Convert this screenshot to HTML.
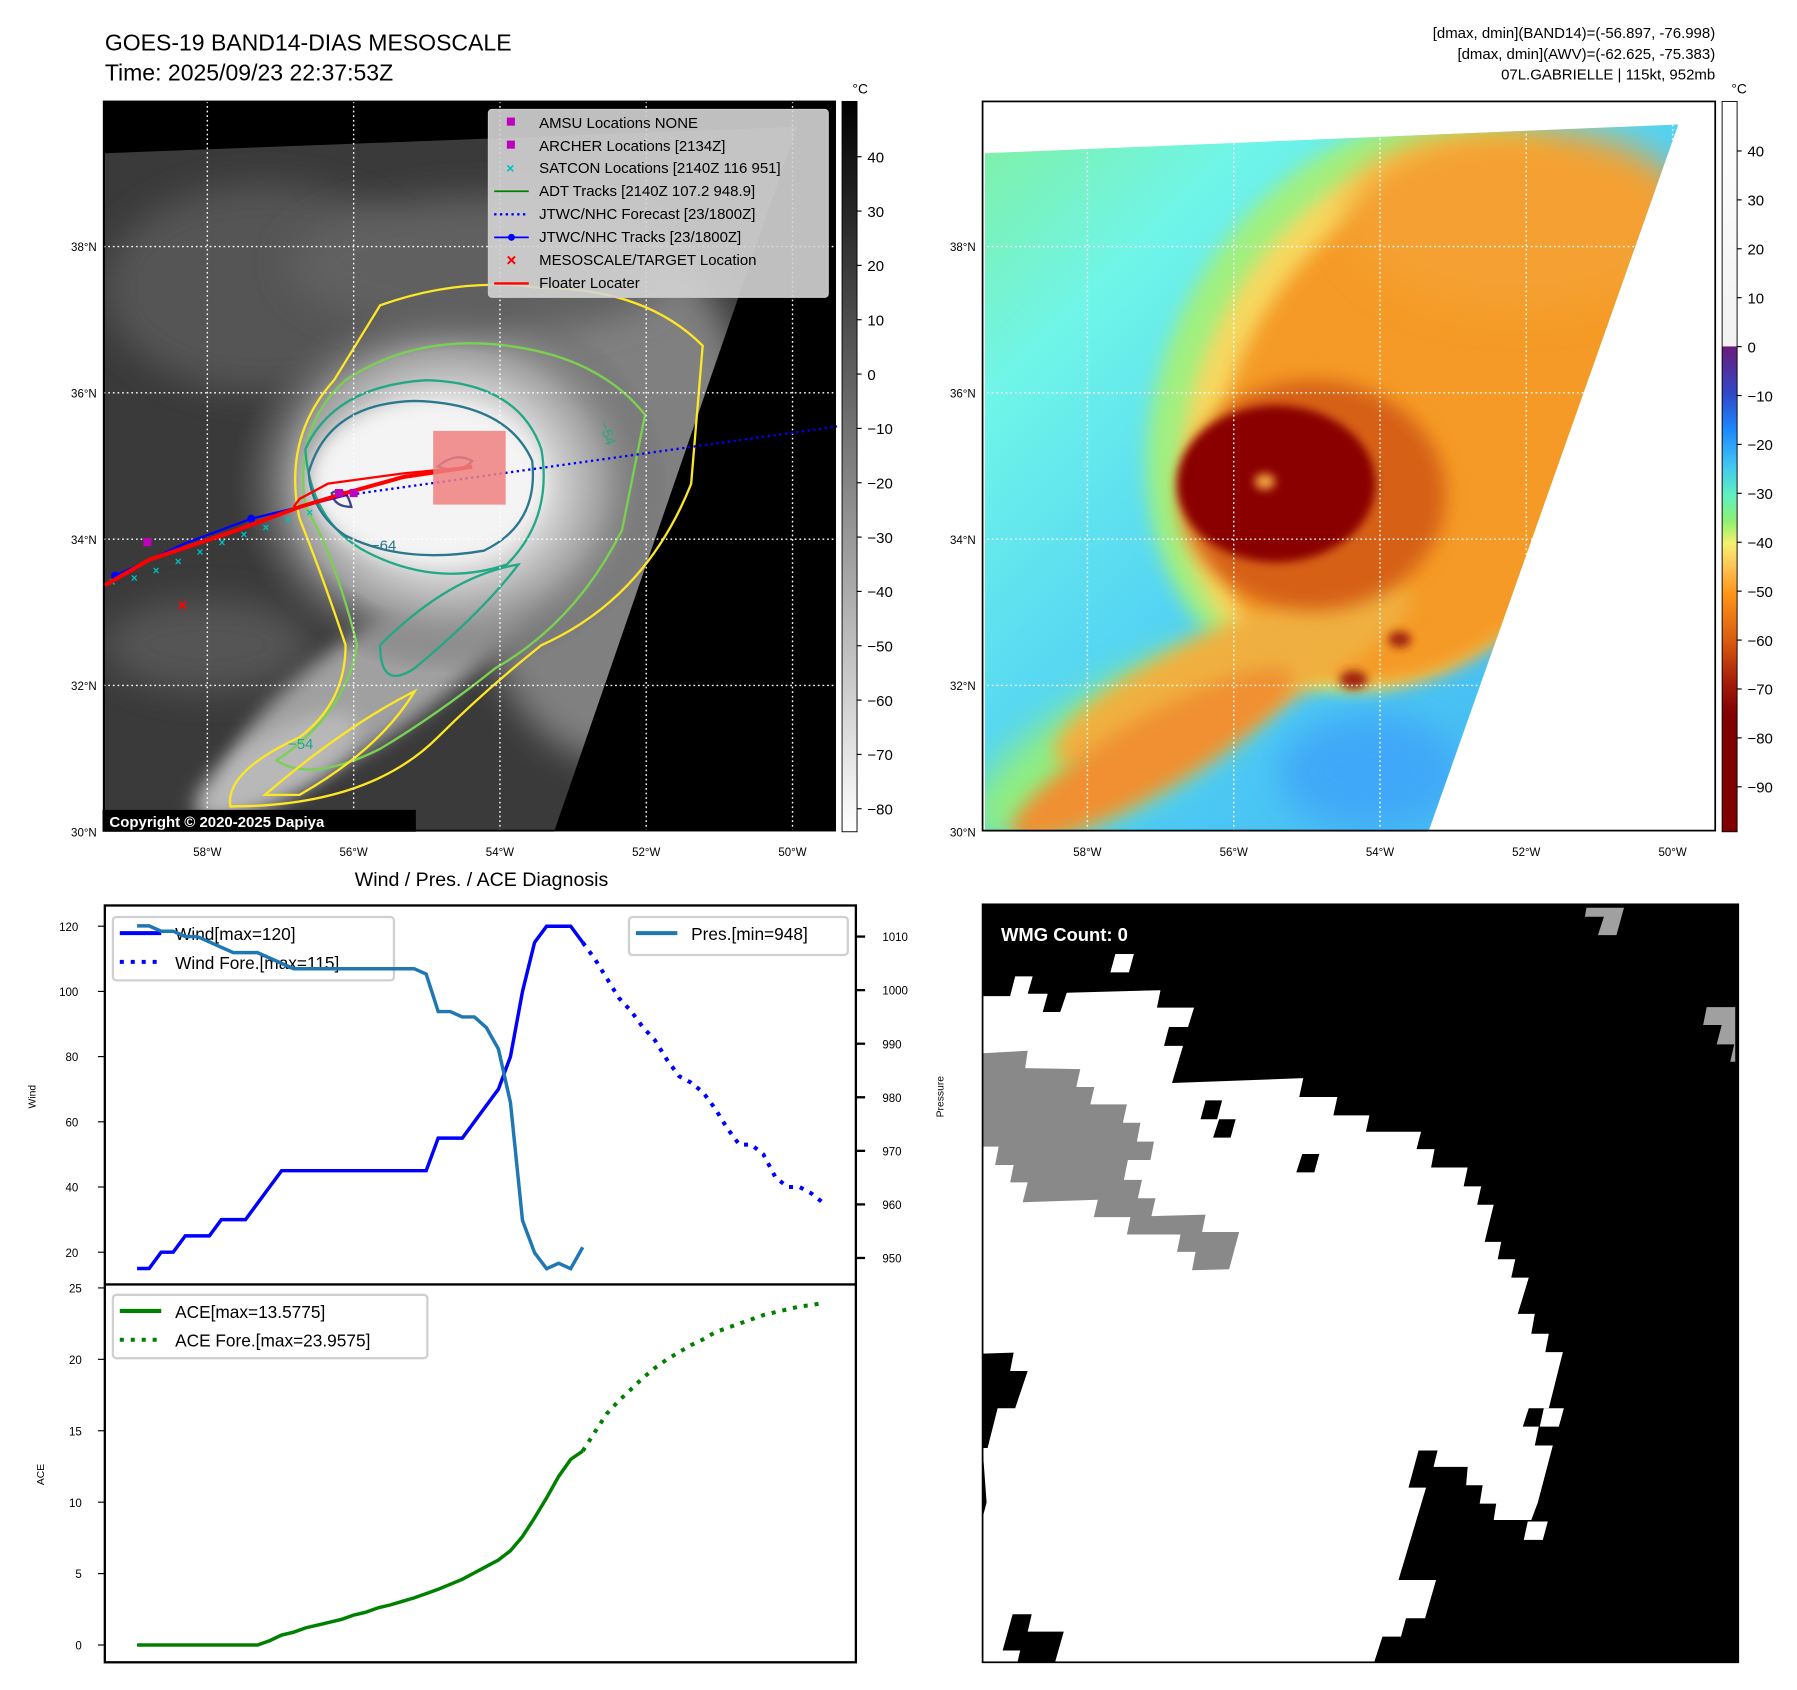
<!DOCTYPE html>
<html><head><meta charset="utf-8">
<style>
html,body{margin:0;padding:0;background:#fff;}
svg{display:block;font-family:"Liberation Sans","DejaVu Sans",sans-serif;}
</style></head>
<body>
<svg id="root" width="1797" height="1690" viewBox="0 0 1560 1467" xmlns="http://www.w3.org/2000/svg">
<defs>
  <filter id="blur8" x="-50%" y="-50%" width="200%" height="200%"><feGaussianBlur stdDeviation="8"/></filter>
  <filter id="blur15" x="-50%" y="-50%" width="200%" height="200%"><feGaussianBlur stdDeviation="15"/></filter>
  <filter id="blur4" x="-50%" y="-50%" width="200%" height="200%"><feGaussianBlur stdDeviation="4"/></filter>
  <clipPath id="clipL"><polygon points="91,133 692,110 481,722 91,722"/></clipPath>
  <clipPath id="clipR"><polygon points="855,133 1457,108 1240,722 855,722"/></clipPath>
  <clipPath id="boxL"><rect x="90" y="88" width="635" height="633"/></clipPath>
  <radialGradient id="stormG" cx="0.5" cy="0.5" r="0.5">
    <stop offset="0" stop-color="#fafafa"/><stop offset="0.4" stop-color="#e6e6e6"/><stop offset="0.7" stop-color="#a0a0a0"/><stop offset="1" stop-color="#5a5a5a" stop-opacity="0"/>
  </radialGradient>
  <linearGradient id="cbL" x1="0" y1="0" x2="0" y2="1">
    <stop offset="0" stop-color="#000"/><stop offset="1" stop-color="#fff"/>
  </linearGradient>
  <linearGradient id="cbR" x1="0" y1="0" x2="0" y2="1">
    <stop offset="0" stop-color="#ffffff"/><stop offset="0.335" stop-color="#f2f2f2"/>
    <stop offset="0.336" stop-color="#6a1b7a"/><stop offset="0.40" stop-color="#3048c8"/>
    <stop offset="0.45" stop-color="#1e88ff"/><stop offset="0.50" stop-color="#40c8f0"/>
    <stop offset="0.54" stop-color="#60f0c0"/><stop offset="0.575" stop-color="#90f070"/>
    <stop offset="0.605" stop-color="#f5f070"/><stop offset="0.64" stop-color="#ffc050"/>
    <stop offset="0.675" stop-color="#ff9418"/><stop offset="0.74" stop-color="#d85a10"/>
    <stop offset="0.80" stop-color="#a01808"/><stop offset="0.84" stop-color="#800000"/><stop offset="1" stop-color="#800000"/>
  </linearGradient>
  <linearGradient id="baseR" x1="0" y1="0" x2="1" y2="1">
    <stop offset="0" stop-color="#80f0a0"/><stop offset="0.2" stop-color="#70f5e8"/><stop offset="0.5" stop-color="#50d0f5"/><stop offset="1" stop-color="#40b0f0"/>
  </linearGradient>
</defs>

<!-- Titles -->
<text x="91" y="44" font-size="20">GOES-19 BAND14-DIAS MESOSCALE</text>
<text x="91" y="70" font-size="20">Time: 2025/09/23 22:37:53Z</text>
<g font-size="13" text-anchor="end">
  <text x="1489" y="33">[dmax, dmin](BAND14)=(-56.897, -76.998)</text>
  <text x="1489" y="51">[dmax, dmin](AWV)=(-62.625, -75.383)</text>
  <text x="1489" y="69">07L.GABRIELLE | 115kt, 952mb</text>
</g>

<!-- LEFT MAP -->
<g>
  <rect x="90" y="88" width="635" height="633" fill="#000"/>
  <g clip-path="url(#clipL)">
    <rect x="90" y="100" width="640" height="630" fill="#3a3a3a"/>
    <ellipse cx="230" cy="250" rx="140" ry="90" fill="#555" filter="url(#blur15)"/>
    <ellipse cx="180" cy="560" rx="90" ry="40" fill="#555" filter="url(#blur15)"/>
    <ellipse cx="530" cy="430" rx="130" ry="230" fill="#808080" filter="url(#blur15)"/>
    <ellipse cx="420" cy="230" rx="170" ry="60" fill="#606060" filter="url(#blur15)"/>
    <ellipse cx="330" cy="590" rx="160" ry="45" transform="rotate(-35 330 590)" fill="#a0a0a0" filter="url(#blur8)"/>
    <ellipse cx="240" cy="665" rx="80" ry="28" transform="rotate(-30 240 665)" fill="#b8b8b8" filter="url(#blur8)"/>
    <ellipse cx="390" cy="420" rx="190" ry="165" fill="url(#stormG)"/>
    <ellipse cx="370" cy="418" rx="100" ry="68" fill="#f4f4f4" filter="url(#blur8)"/>
  </g>
  <g clip-path="url(#boxL)" fill="none" stroke-width="2">
    <path d="M330,265 Q400,240 470,250 Q560,250 610,300 L600,420 Q560,520 470,560 Q420,600 380,640 Q320,700 200,700 Q195,670 260,640 Q300,610 300,560 Q280,500 260,450 Q245,380 290,330 Z" stroke="#fde725"/>
    <path d="M300,330 Q360,290 440,300 Q520,310 560,360 L540,460 Q500,540 430,580 Q380,620 330,650 Q270,680 240,660 Q300,620 310,560 Q290,480 265,440 Q255,370 300,330 Z" stroke="#7ad151"/>
    <path d="M265,390 Q290,335 370,330 Q450,332 470,390 Q480,450 440,490 Q380,510 320,480 Q270,455 265,390 Z" stroke="#22a884"/>
    <path d="M268,410 Q285,350 360,348 Q440,350 462,400 Q468,455 420,478 Q350,490 300,465 Q270,445 268,410 Z" stroke="#2a788e"/>
    <path d="M380,405 Q395,392 410,400 Q400,412 380,405 Z" stroke="#414487"/>
    <path d="M288,428 Q300,420 305,440 Q290,440 288,428 Z" stroke="#414487"/>
    <path d="M330,560 Q390,500 450,490 Q420,530 360,580 Q330,600 330,560 Z" stroke="#22a884"/>
    <path d="M230,690 Q300,630 360,600 Q330,650 260,690 Z" stroke="#fde725"/>
    <text x="322" y="478" font-size="13" fill="#2a788e" stroke="none">−64</text>
    <text x="520" y="368" font-size="12" fill="#22a884" stroke="none" transform="rotate(70 520 368)">−54</text>
    <text x="250" y="650" font-size="13" fill="#22a884" stroke="none">−54</text>
  </g>
  <g id="gridL"></g>
  <g id="tracksL"></g>
  <rect x="89" y="703" width="272" height="19" fill="#000"/>
  <text x="95" y="718" font-size="13" font-weight="bold" fill="#fff">Copyright © 2020-2025 Dapiya</text>
  <rect x="90" y="88" width="635" height="633" fill="none" stroke="#000" stroke-width="1.5"/>
  <g font-size="13">
    <rect x="424" y="95" width="295" height="163" rx="3" fill="#d4d4d4" fill-opacity="0.9" stroke="#ccc"/>
    <rect x="440" y="102" width="7" height="7" fill="#bf00bf"/><text x="468" y="111">AMSU Locations NONE</text>
    <rect x="440" y="122" width="7" height="7" fill="#bf00bf"/><text x="468" y="131">ARCHER Locations [2134Z]</text>
    <text x="443" y="150" font-size="12" font-weight="bold" fill="#00bfbf" text-anchor="middle">×</text><text x="468" y="150">SATCON Locations [2140Z 116 951]</text>
    <line x1="429" y1="166" x2="459" y2="166" stroke="#008000" stroke-width="1.5"/><text x="468" y="170">ADT Tracks [2140Z 107.2 948.9]</text>
    <line x1="429" y1="186" x2="459" y2="186" stroke="#0000ff" stroke-width="2" stroke-dasharray="2 3"/><text x="468" y="190">JTWC/NHC Forecast [23/1800Z]</text>
    <line x1="429" y1="206" x2="459" y2="206" stroke="#0000ff" stroke-width="1.5"/><circle cx="444" cy="206" r="3" fill="#0000ff"/><text x="468" y="210">JTWC/NHC Tracks [23/1800Z]</text>
    <text x="444" y="231" font-size="15" font-weight="bold" fill="#ff0000" text-anchor="middle">×</text><text x="468" y="230">MESOSCALE/TARGET Location</text>
    <line x1="429" y1="246" x2="459" y2="246" stroke="#ff0000" stroke-width="2"/><text x="468" y="250">Floater Locater</text>
  </g>
  <g id="axL" font-size="10"></g>
</g>
<!-- Left colorbar -->
<g>
  <rect x="731" y="88" width="13" height="634" fill="url(#cbL)" stroke="#000" stroke-width="0.8"/>
  <text x="740" y="81" font-size="12">°C</text>
  <g id="cbLticks" font-size="13"></g>
</g>

<!-- RIGHT MAP -->
<g>
  <rect x="853" y="88" width="636" height="633" fill="#fff"/>
  <g clip-path="url(#clipR)">
    <rect x="850" y="100" width="640" height="630" fill="url(#baseR)"/>
    <ellipse cx="980" cy="640" rx="160" ry="50" transform="rotate(-30 980 640)" fill="#90ee80" filter="url(#blur15)"/>
    <ellipse cx="1190" cy="670" rx="80" ry="50" fill="#40a8f8" filter="url(#blur15)"/>
    <ellipse cx="1210" cy="350" rx="200" ry="260" transform="rotate(28 1210 350)" fill="#a0f080" filter="url(#blur8)"/>
    <ellipse cx="1225" cy="360" rx="185" ry="248" transform="rotate(28 1225 360)" fill="#f6d860" filter="url(#blur8)"/>
    <ellipse cx="1240" cy="370" rx="172" ry="236" transform="rotate(28 1240 370)" fill="#f59a28" filter="url(#blur8)"/>
    <ellipse cx="1320" cy="190" rx="150" ry="80" fill="#f4a030" filter="url(#blur15)"/>
    <ellipse cx="1070" cy="585" rx="170" ry="42" transform="rotate(-25 1070 585)" fill="#f0b040" filter="url(#blur8)"/>
    <ellipse cx="1000" cy="655" rx="140" ry="32" transform="rotate(-30 1000 655)" fill="#f09030" filter="url(#blur8)"/>
    <ellipse cx="1140" cy="430" rx="115" ry="100" fill="#d66018" filter="url(#blur8)"/>
    <ellipse cx="1108" cy="420" rx="86" ry="68" fill="#8a0400" filter="url(#blur4)"/>
    <ellipse cx="1098" cy="418" rx="9" ry="7" fill="#f0a040" filter="url(#blur4)"/>
    <ellipse cx="1175" cy="590" rx="12" ry="8" fill="#a02008" filter="url(#blur4)"/>
    <ellipse cx="1215" cy="555" rx="10" ry="7" fill="#a02008" filter="url(#blur4)"/>
  </g>
  <g id="gridR"></g>
  <rect x="853" y="88" width="636" height="633" fill="none" stroke="#000" stroke-width="1.5"/>
  <g id="axR" font-size="10"></g>
</g>
<g>
  <rect x="1495" y="88" width="13" height="634" fill="url(#cbR)" stroke="#000" stroke-width="0.8"/>
  <text x="1503" y="81" font-size="12">°C</text>
  <g id="cbRticks" font-size="13"></g>
</g>

<!-- WMG PANEL -->
<g>
  <rect x="853" y="785" width="656" height="658" fill="#000"/>
  <g transform="translate(853,785) scale(0.435,0.431) translate(-10,-5)">
    <polygon fill="#fff" points="10,190 65,190 75,150 110,150 100,185 140,185 130,222 165,222 178,183 365,178 358,213 432,213 420,252 382,252 372,290 410,290 388,365 650,355 642,393 718,393 710,430 782,430 775,463 885,463 876,498 912,498 905,535 978,535 970,573 1005,573 997,610 1030,610 1012,685 1045,685 1038,720 1073,720 1065,757 1100,757 1078,830 1112,830 1105,870 1140,870 1133,907 1168,907 1140,1020 1100,1020 1088,1057 1120,1057 1112,1095 1148,1095 1118,1210 1105,1245 1030,1245 1035,1212 1002,1212 1008,1175 975,1175 978,1138 910,1138 918,1105 880,1105 860,1180 895,1180 840,1366 915,1366 893,1443 855,1443 845,1480 808,1480 792,1530 155,1530 172,1470 100,1470 108,1435 70,1435 50,1508 85,1508 80,1530 10,1530 10,1240 18,1210 10,1100 20,1100 40,1020 75,1020 100,945 65,945 72,908 10,910"/>
    <polygon fill="#fff" points="275,105 312,105 302,142 265,142"/>
    <polygon fill="#fff" points="1098,1248 1138,1248 1128,1285 1090,1285"/>
    <polygon fill="#fff" points="1130,1020 1170,1020 1160,1057 1122,1057"/>
    <polygon fill="#000" points="455,400 488,400 478,438 445,438"/>
    <polygon fill="#000" points="482,438 515,438 505,475 470,475"/>
    <polygon fill="#000" points="648,508 682,508 672,545 636,545"/>
    <polygon fill="#898989" points="10,305 100,300 95,335 205,337 197,373 233,373 225,408 298,408 290,445 325,445 318,483 352,483 345,520 300,520 292,560 328,560 320,597 355,597 347,633 455,630 448,665 522,665 502,740 428,742 435,705 398,705 405,670 298,670 305,635 232,635 240,600 90,605 100,565 65,565 72,530 35,530 42,493 10,493"/>
    <polygon fill="#a0a0a0" points="1215,12 1290,12 1275,67 1238,67 1250,30 1212,30"/>
    <polygon fill="#a0a0a0" points="1455,212 1512,212 1512,322 1502,322 1510,287 1475,287 1485,248 1448,248"/>
  </g>
  <rect x="853" y="785" width="656" height="658" fill="none" stroke="#000" stroke-width="1.5"/>
  <text x="869" y="817" font-size="16" font-weight="bold" fill="#fff">WMG Count: 0</text>
</g>

<!-- BOTTOM-LEFT CHART -->
<text x="418" y="769" font-size="17" text-anchor="middle">Wind / Pres. / ACE Diagnosis</text>
<g id="chart"></g>

<script>
// ---------- Chart data (index = 6-hourly step) ----------
const windObs = [15,15,20,20,25,25,25,30,30,30,35,40,45,45,45,45,45,45,45,45,45,45,45,45,45,55,55,55,60,65,70,80,100,115,120,120,120,115];
const windFore = [110,104,98,94,89,85,79,74,72,69,64,58,53,53,50,43,40,40,38,35];
const presObs = [1012,1012,1011,1011,1010,1010,1009,1008,1007,1007,1007,1006,1005,1004,1004,1004,1004,1004,1004,1004,1004,1004,1004,1004,1003,996,996,995,995,993,989,979,957,951,948,949,948,952];
const aceObs = [0,0,0,0,0,0,0,0,0,0,0,0.3,0.7,0.9,1.2,1.4,1.6,1.8,2.1,2.3,2.6,2.8,3.05,3.3,3.6,3.9,4.25,4.6,5.05,5.5,5.95,6.6,7.6,8.9,10.3,11.8,13.0,13.58];
const aceFore = [14.9,16.2,17.1,17.9,18.7,19.4,20.0,20.5,21.0,21.4,21.9,22.2,22.5,22.8,23.1,23.3,23.5,23.7,23.8,23.96];
const windTicks = [20,40,60,80,100,120];
const presTicks = [950,960,970,980,990,1000,1010];
const aceTicks = [0,5,10,15,20,25];
// ---------- Map data ----------
const latTicks = [38,36,34,32,30];
const lonTicks = [-58,-56,-54,-52,-50];
const cbLTicks = [40,30,20,10,0,-10,-20,-30,-40,-50,-60,-70,-80];
const cbRTicks = [40,30,20,10,0,-10,-20,-30,-40,-50,-60,-70,-80,-90];
const floaterLon = [-59.40,-58.79,-57.69,-56.74,-56.11,-55.32,-54.38];
const floaterLat = [33.37,33.72,34.09,34.44,34.63,34.85,34.99];
const floaterLoopLon = [-56.82,-56.74,-56.35,-55.32,-54.38];
const floaterLoopLat = [34.44,34.55,34.76,34.90,34.99];
const bestLon = [-59.26,-58.31,-57.40,-56.74,-56.11];
const bestLat = [33.50,33.94,34.28,34.44,34.60];
const foreLon = [-56.11,-49.39];
const foreLat = [34.60,35.54];
const satconLon = [-59.3,-59.0,-58.7,-58.4,-58.1,-57.8,-57.5,-57.2,-56.9,-56.6];
const satconLat = [33.42,33.48,33.58,33.70,33.83,33.96,34.07,34.17,34.27,34.37];
const archerLon = [-58.82,-56.0,-56.2];
const archerLat = [33.96,34.63,34.63];
const targetLon = [-58.34];
const targetLat = [33.10];

const NS = 'http://www.w3.org/2000/svg';
function mk(tag, attrs, parent){ const e=document.createElementNS(NS,tag); for(const k in attrs) e.setAttribute(k,attrs[k]); if(parent) parent.appendChild(e); return e; }

function mapX(lon, x0){ return x0 + (lon+58)*63.5; }
function mapY(lat){ return 214 - (lat-38)*63.5; }
function buildMapAxes(gridId, axId, x0, left, right){
  const grid=document.getElementById(gridId), ax=document.getElementById(axId);
  lonTicks.forEach(lon=>{
    const x=mapX(lon,x0);
    const l=mk('line',{x1:x,y1:88,x2:x,y2:721,stroke:'#fff','stroke-width':1.2,'stroke-dasharray':'1.5 2.5'},grid);
    
    
    const t=mk('text',{x:x,y:743,'text-anchor':'middle'},ax);
    t.textContent=Math.abs(lon)+'°W';
    
    
  });
  latTicks.forEach(lat=>{
    const y=mapY(lat);
    if(lat>30){
      const l=mk('line',{x1:left,y1:y,x2:right,y2:y,stroke:'#fff','stroke-width':1.2,'stroke-dasharray':'1.5 2.5'},grid);
      
      
    }
    const t=mk('text',{x:left-6,y:y+4,'text-anchor':'end'},ax);
    t.textContent=lat+'°N';
    
    
  });
}
buildMapAxes('gridL','axL',180,90,725);
buildMapAxes('gridR','axR',944,853,1489);

function buildCb(id, ticks, x, yTop, vTop, pxPer){
  const g=document.getElementById(id);
  ticks.forEach(v=>{
    const y=yTop+(vTop-v)*pxPer;
    mk('line',{x1:x-4,y1:y,x2:x,y2:y,stroke:'#000','stroke-width':1},g);
    const t=mk('text',{x:x+5,y:y+5},g);
    t.textContent=(v<0?'−'+Math.abs(v):String(v));
    
    
  });
}
buildCb('cbLticks',cbLTicks,748,136,40,4.717);
buildCb('cbRticks',cbRTicks,1512,131,40,4.246);

(function(){
  const g=document.getElementById('tracksL');
  const pts=(lons,lats)=>lons.map((lo,i)=>mapX(lo,180)+','+mapY(lats[i])).join(' ');
  const fc=mk('polyline',{points:pts(foreLon,foreLat),fill:'none',stroke:'#0000ff','stroke-width':2,'stroke-dasharray':'2 3'},g);
  
  
  satconLon.forEach((lo,i)=>{
    const t=mk('text',{x:mapX(lo,180),y:mapY(satconLat[i])+4,'font-size':10,'font-weight':'bold',fill:'#00bfbf','text-anchor':'middle'},g);
    t.textContent='×';
    
    
  });
  const bt=mk('polyline',{points:pts(bestLon,bestLat),fill:'none',stroke:'#0000ff','stroke-width':2},g);
  
  
  [0,2].forEach(i=>{ const c=mk('circle',{cx:mapX(bestLon[i],180),cy:mapY(bestLat[i]),r:3.5,fill:'#0000ff'},g);
    
     });
  const fl=mk('polyline',{points:pts(floaterLon,floaterLat),fill:'none',stroke:'#ff0000','stroke-width':3.5},g);
  
  
  const fl2=mk('polyline',{points:pts(floaterLoopLon,floaterLoopLat),fill:'none',stroke:'#ff0000','stroke-width':2},g);
  
  
  archerLon.forEach((lo,i)=>{
    const r=mk('rect',{x:mapX(lo,180)-3.5,y:mapY(archerLat[i])-3.5,width:7,height:7,fill:'#bf00bf'},g);
    
    
  });
  const tx=mk('text',{x:mapX(targetLon[0],180),y:mapY(targetLat[0])+5,'font-size':15,'font-weight':'bold',fill:'#ff0000','text-anchor':'middle'},g);
  tx.textContent='×';
  
  
  const box=mk('rect',{x:376,y:374,width:63,height:64,fill:'#f08080','fill-opacity':0.85},g);
  
  
})();

(function(){
  const g=document.getElementById('chart');
  const N = windObs.length + windFore.length - 1;
  const X = i => 119 + i*(715-119)/N;
  const YW = v => 804 + (120-v)*2.83;
  const YP = p => 813 + (1010-p)*4.65;
  const YA = v => 1428 - v*12.4;
  mk('rect',{x:91,y:786,width:652,height:657,fill:'#fff',stroke:'none'},g);
  windTicks.forEach(v=>{ const y=YW(v); mk('line',{x1:85,y1:y,x2:91,y2:y,stroke:'#000'},g);
    const t=mk('text',{x:68,y:y+4,'font-size':10,'text-anchor':'end'},g); t.textContent=v;
    
     });
  presTicks.forEach(v=>{ const y=YP(v); mk('line',{x1:743,y1:y,x2:751,y2:y,stroke:'#000','stroke-width':2},g);
    const t=mk('text',{x:766,y:y+4,'font-size':10},g); t.textContent=v;
    
     });
  aceTicks.forEach(v=>{ const y=YA(v); mk('line',{x1:85,y1:y,x2:91,y2:y,stroke:'#000'},g);
    const t=mk('text',{x:71,y:y+4,'font-size':10,'text-anchor':'end'},g); t.textContent=v;
    
     });
  const yl1=mk('text',{x:0,y:0,'font-size':9,transform:'translate(31,952) rotate(-90)','text-anchor':'middle'},g); yl1.textContent='Wind';
  
  
  const yl2=mk('text',{x:0,y:0,'font-size':9,transform:'translate(819,952) rotate(-90)','text-anchor':'middle'},g); yl2.textContent='Pressure';
  
  
  const yl3=mk('text',{x:0,y:0,'font-size':9,transform:'translate(38,1280) rotate(-90)','text-anchor':'middle'},g); yl3.textContent='ACE';
  
  
  const o = windObs.length-1;
  const line=(arr,off,fy)=>arr.map((v,i)=>X(i+off)+','+fy(v)).join(' ');
  const lg=(x,y,w,h,items,name)=>{
    const gg=mk('g',{},g);
    
    
    mk('rect',{x:x,y:y,width:w,height:h,rx:3,fill:'#fff','fill-opacity':0.8,stroke:'#d0d0d0','stroke-width':2},gg);
    items.forEach((it,k)=>{
      const yy=y+14+k*25;
      mk('line',{x1:x+6,y1:yy,x2:x+42,y2:yy,stroke:it.c,'stroke-width':3.5,'stroke-dasharray':it.d||'none'},gg);
      const t=mk('text',{x:x+54,y:yy+6,'font-size':15},gg); t.textContent=it.t;
    });
  };
  const w1=mk('polyline',{points:line(windObs,0,YW),fill:'none',stroke:'#0000ff','stroke-width':3},g);
  
  
  const w2=mk('polyline',{points:X(o)+','+YW(windObs[o])+' '+line(windFore,o+1,YW),fill:'none',stroke:'#0000ff','stroke-width':3.5,'stroke-dasharray':'3.5 6'},g);
  
  
  lg(98,796,244,55,[{c:'#0000ff',t:'Wind[max=120]'},{c:'#0000ff',t:'Wind Fore.[max=115]',d:'3.5 6'}],'wind-legend');
  const p1=mk('polyline',{points:line(presObs,0,YP),fill:'none',stroke:'#1f77b4','stroke-width':3},g);
  
  
  lg(546,796,190,33,[{c:'#1f77b4',t:'Pres.[min=948]'}],'pressure-legend');
  const a1=mk('polyline',{points:line(aceObs,0,YA),fill:'none',stroke:'#008000','stroke-width':3},g);
  
  
  const a2=mk('polyline',{points:X(o)+','+YA(aceObs[o])+' '+line(aceFore,o+1,YA),fill:'none',stroke:'#008000','stroke-width':3.5,'stroke-dasharray':'3.5 6'},g);
  
  
  lg(98,1124,273,55,[{c:'#008000',t:'ACE[max=13.5775]'},{c:'#008000',t:'ACE Fore.[max=23.9575]',d:'3.5 6'}],'ace-legend');
  mk('rect',{x:91,y:786,width:652,height:657,fill:'none',stroke:'#000','stroke-width':2},g);
  mk('line',{x1:91,y1:1115,x2:743,y2:1115,stroke:'#000','stroke-width':2},g);
})();
</script>
</svg>
</body></html>
